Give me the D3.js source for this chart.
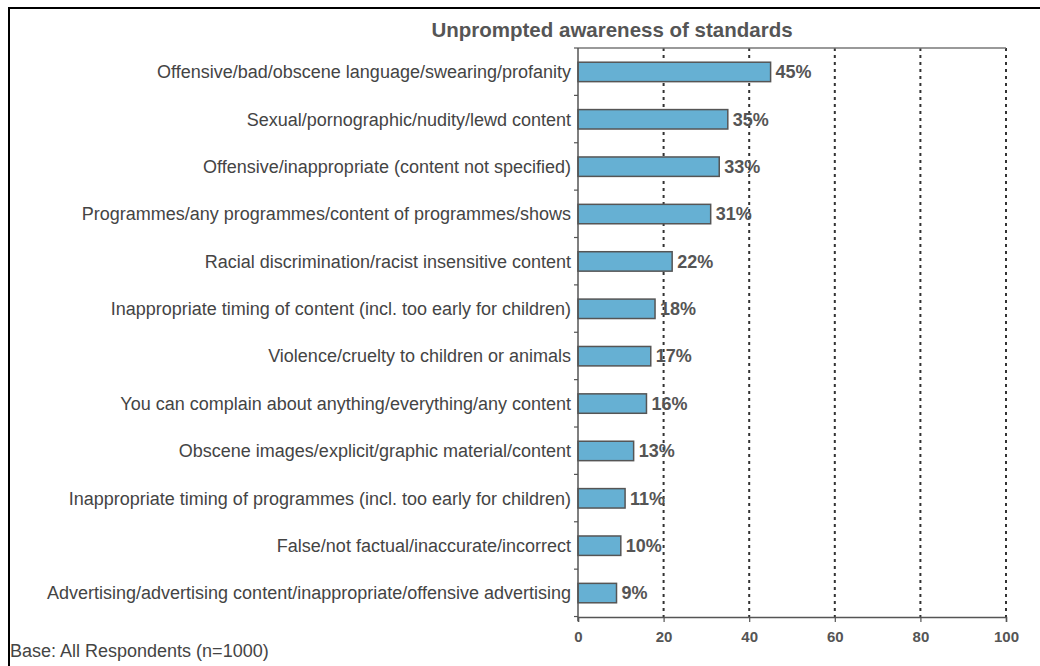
<!DOCTYPE html>
<html lang="en">
<head>
<meta charset="UTF-8">
<title>Unprompted awareness of standards</title>
<style>
  body { margin: 0; background: #fff; }
  text { font-family: "Liberation Sans", Arial, sans-serif; }
</style>
</head>
<body>
<svg id="chart"></svg>
<script src="https://d3js.org/d3.v7.min.js"></script>
<script>
    // Data
    var categories = [
        "Offensive/bad/obscene language/swearing/profanity",
        "Sexual/pornographic/nudity/lewd content",
        "Offensive/inappropriate (content not specified)",
        "Programmes/any programmes/content of programmes/shows",
        "Racial discrimination/racist insensitive content",
        "Inappropriate timing of content (incl. too early for children)",
        "Violence/cruelty to children or animals",
        "You can complain about anything/everything/any content",
        "Obscene images/explicit/graphic material/content",
        "Inappropriate timing of programmes (incl. too early for children)",
        "False/not factual/inaccurate/incorrect",
        "Advertising/advertising content/inappropriate/offensive advertising"
    ];
    var values = [45, 35, 33, 31, 22, 18, 17, 16, 13, 11, 10, 9];
    var xTicks = [0, 20, 40, 60, 80, 100];

    var width = 1040, height = 666;
    var margin = { top: 48, right: 34, bottom: 49, left: 578 };

    var svg = d3.select("#chart")
        .attr("width", width)
        .attr("height", height);

    // outer frame (only top and left visible)
    svg.append("path")
        .attr("d", "M9,666 V8 H1040")
        .attr("fill", "none")
        .attr("stroke", "#000")
        .attr("stroke-width", 2);

    var x = d3.scaleLinear()
        .domain([0, 100])
        .range([margin.left, width - margin.right]);

    var y = d3.scaleBand()
        .domain(categories)
        .range([margin.top, height - margin.bottom])
        .paddingInner(0.59)
        .paddingOuter(0.3);

    var step = y.step();
    var y0 = margin.top, y1 = height - margin.bottom;

    // title
    svg.append("text")
        .attr("x", 612)
        .attr("y", 37)
        .attr("text-anchor", "middle")
        .attr("font-size", 20.5)
        .attr("font-weight", "bold")
        .attr("fill", "#555")
        .text("Unprompted awareness of standards");

    // grid lines
    svg.append("g")
        .selectAll("line")
        .data(xTicks.slice(1))
        .enter()
        .append("line")
        .attr("x1", d => x(d))
        .attr("x2", d => x(d))
        .attr("y1", y0)
        .attr("y2", y1)
        .attr("stroke", "#333")
        .attr("stroke-width", 2)
        .attr("stroke-dasharray", "3,4");

    // top frame line
    svg.append("line")
        .attr("x1", x(0)).attr("x2", x(100))
        .attr("y1", y0).attr("y2", y0)
        .attr("stroke", "#777")
        .attr("stroke-width", 1.5);

    // bars
    svg.append("g")
        .selectAll("rect")
        .data(values)
        .enter()
        .append("rect")
        .attr("x", x(0))
        .attr("y", (d, i) => y(categories[i]))
        .attr("width", d => x(d) - x(0))
        .attr("height", y.bandwidth())
        .attr("fill", "#66b0d3")
        .attr("stroke", "#555")
        .attr("stroke-width", 1.5);

    // value labels
    svg.append("g")
        .selectAll("text")
        .data(values)
        .enter()
        .append("text")
        .attr("x", d => x(d) + 5)
        .attr("y", (d, i) => y(categories[i]) + y.bandwidth() / 2)
        .attr("dy", "0.35em")
        .attr("font-size", 18)
        .attr("font-weight", "bold")
        .attr("fill", "#555")
        .text(d => d + "%");

    // category labels
    svg.append("g")
        .selectAll("text")
        .data(categories)
        .enter()
        .append("text")
        .attr("x", x(0) - 7)
        .attr("y", d => y(d) + y.bandwidth() / 2)
        .attr("dy", "0.35em")
        .attr("text-anchor", "end")
        .attr("font-size", 18)
        .attr("fill", "#444")
        .text(d => d);

    // left axis with ticks between categories
    var axisColor = "#555";
    svg.append("line")
        .attr("x1", x(0)).attr("x2", x(0))
        .attr("y1", y0).attr("y2", y1 + 4)
        .attr("stroke", axisColor)
        .attr("stroke-width", 1.5);

    svg.append("g")
        .selectAll("line")
        .data(d3.range(categories.length + 1))
        .enter()
        .append("line")
        .attr("x1", x(0) - 4).attr("x2", x(0))
        .attr("y1", i => y0 + i * step)
        .attr("y2", i => y0 + i * step)
        .attr("stroke", axisColor)
        .attr("stroke-width", 1.2);

    // bottom axis
    var xAxis = svg.append("g")
        .attr("transform", "translate(0," + y1 + ")")
        .call(d3.axisBottom(x).tickValues(xTicks).tickSize(5).tickPadding(9));

    xAxis.select(".domain").attr("stroke", axisColor).attr("stroke-width", 1.5);
    xAxis.selectAll(".tick line").attr("stroke", axisColor).attr("stroke-width", 1.2);
    xAxis.selectAll(".tick text")
        .attr("font-family", "'Liberation Sans', Arial, sans-serif")
        .attr("font-size", 15)
        .attr("font-weight", "bold")
        .attr("fill", "#555");

    // footnote
    svg.append("text")
        .attr("x", 10)
        .attr("y", 657)
        .attr("font-size", 18)
        .attr("fill", "#444")
        .text("Base: All Respondents (n=1000)");
</script>
</body>
</html>
